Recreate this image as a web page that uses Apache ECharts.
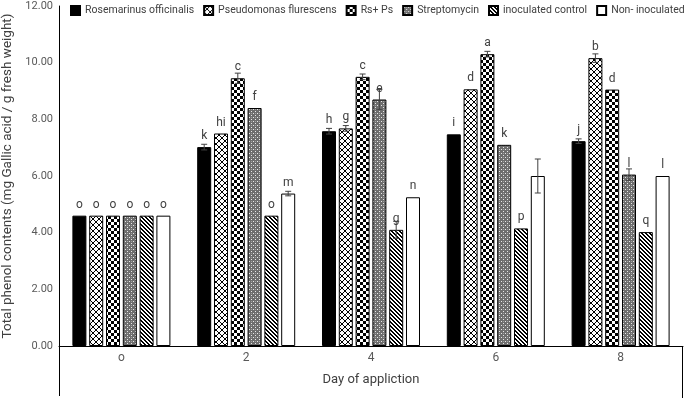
<!DOCTYPE html>
<html>
<head>
<meta charset="utf-8">
<script src="https://cdn.jsdelivr.net/npm/echarts@6/dist/echarts.min.js"></script>
<style>
  html, body { margin: 0; padding: 0; background: #fff; }
  #chart { width: 685px; height: 398px; }
</style>
</head>
<body>
<div id="chart"></div>
<script>
// data
const days = ['o', '2', '4', '6', '8'];
const yTicks = [0, 2, 4, 6, 8, 10, 12];
const names = ['Rosemarinus officinalis', 'Pseudomonas flurescens', 'Rs+ Ps', 'Streptomycin', 'inoculated control', 'Non- inoculated'];

const rosemarinus = [4.6, 7.02, 7.58, 7.47, 7.23];
const pseudomonas = [4.6, 7.5, 7.68, 9.06, 10.16];
const rsPs = [4.6, 9.45, 9.5, 10.3, 9.05];
const streptomycin = [4.6, 8.4, 8.7, 7.1, 6.05];
const inocControl = [4.6, 4.6, 4.1, 4.15, 4.02];
const nonInoc = [4.6, 5.38, 5.25, 6.0, 6.0];

const errRosemarinus = [0, 0.1, 0.1, 0, 0.08];
const errPseudomonas = [0, 0, 0.1, 0, 0.15];
const errRsPs = [0, 0.18, 0.1, 0.1, 0];
const errStreptomycin = [0, 0, 0.35, 0, 0.2];
const errInocControl = [0, 0, 0.3, 0, 0];
const errNonInoc = [0, 0.08, 0, 0.6, 0];

const lettersRosemarinus = ['o', 'k', 'h', 'i', 'j'];
const lettersPseudomonas = ['o', 'hi', 'g', 'd', 'b'];
const lettersRsPs = ['o', 'c', 'c', 'a', 'd'];
const lettersStreptomycin = ['o', 'f', 'e', 'k', 'l'];
const lettersInocControl = ['o', 'o', 'g', 'p', 'q'];
const lettersNonInoc = ['o', 'm', 'n', '', 'l'];

const values = [rosemarinus, pseudomonas, rsPs, streptomycin, inocControl, nonInoc];
const errors = [errRosemarinus, errPseudomonas, errRsPs, errStreptomycin, errInocControl, errNonInoc];
const letters = [lettersRosemarinus, lettersPseudomonas, lettersRsPs, lettersStreptomycin, lettersInocControl, lettersNonInoc];

// hatch fills like the excel patterns
function tile(size, draw) {
  const c = document.createElement('canvas');
  c.width = c.height = size;
  const g = c.getContext('2d');
  g.fillStyle = '#fff';
  g.fillRect(0, 0, size, size);
  draw(g, size);
  return { image: c, repeat: 'repeat' };
}
const fills = [
  '#000',
  tile(6, (g, s) => {
    g.fillStyle = '#000';
    for (let i = 0; i < s; i++) { g.fillRect(i, i, 1, 1); g.fillRect(s - 1 - i, i, 1, 1); }
  }),
  tile(6, (g) => {
    g.fillStyle = '#000';
    g.fillRect(0, 0, 3, 3);
    g.fillRect(3, 3, 3, 3);
  }),
  tile(4, (g) => {
    g.fillStyle = '#6e6e6e';
    g.fillRect(0, 0, 4, 4);
    g.fillStyle = '#e8e8e8';
    g.fillRect(1, 1, 1, 1);
    g.fillRect(3, 3, 1, 1);
    g.fillStyle = '#a0a0a0';
    g.fillRect(3, 1, 1, 1);
  }),
  tile(4, (g, s) => {
    g.fillStyle = '#000';
    for (let i = 0; i < s; i++) { g.fillRect(i, i, 1, 1); g.fillRect((i + 1) % s, i, 1, 1); }
  }),
  '#fff'
];

const BAR_W = 14;
const PITCH = BAR_W * 1.2;
const font = 'Roboto, "Noto Sans", sans-serif';

const series = [];
names.forEach((name, k) => {
  series.push({
    name: name,
    type: 'bar',
    barWidth: BAR_W,
    barGap: '20%',
    data: values[k],
    itemStyle: { color: fills[k], borderColor: '#000', borderWidth: 1 },
    label: {
      show: true,
      position: 'top',
      distance: 5,
      color: '#404040',
      fontSize: 12,
      fontFamily: font,
      formatter: (p) => letters[k][p.dataIndex]
    },
    z: 2
  });
});
names.forEach((name, k) => {
  const off = (k - 2.5) * PITCH;
  series.push({
    type: 'custom',
    z: 5,
    silent: true,
    data: days.map((d, i) => [i, values[k][i], errors[k][i]]),
    renderItem: (params, api) => {
      const e = api.value(2);
      if (!e) return null;
      const x = api.coord([api.value(0), 0])[0] + off;
      const hi = api.coord([api.value(0), api.value(1) + e])[1];
      const lo = api.coord([api.value(0), api.value(1) - e])[1];
      const st = { stroke: '#404040', lineWidth: 1 };
      return {
        type: 'group',
        children: [
          { type: 'line', shape: { x1: x, y1: hi, x2: x, y2: lo }, style: st },
          { type: 'line', shape: { x1: x - 3, y1: hi, x2: x + 3, y2: hi }, style: st },
          { type: 'line', shape: { x1: x - 3, y1: lo, x2: x + 3, y2: lo }, style: st }
        ]
      };
    }
  });
});

const chart = echarts.init(document.getElementById('chart'));
chart.setOption({
  animation: false,
  backgroundColor: '#fff',
  legend: {
    data: names,
    top: 5,
    left: 70,
    width: 615,
    padding: 0,
    icon: 'rect',
    itemWidth: 9,
    itemHeight: 9,
    itemGap: 9,
    textStyle: { fontSize: 10.5, color: '#404040', fontFamily: font }
  },
  grid: { left: 59, right: 2, top: 6, bottom: 52, outerBoundsMode: 'none' },
  xAxis: {
    type: 'category',
    data: days,
    name: 'Day of appliction',
    nameLocation: 'middle',
    nameGap: 27,
    nameTextStyle: { fontSize: 13, color: '#404040', fontFamily: font },
    axisLine: { lineStyle: { color: '#000', width: 1 } },
    axisTick: { show: false },
    axisLabel: { fontSize: 12, color: '#595959', fontFamily: font, margin: 6 }
  },
  yAxis: {
    type: 'value',
    min: yTicks[0],
    max: yTicks[yTicks.length - 1],
    interval: 2,
    name: 'Total phenol contents (mg Gallic acid / g fresh weight)',
    nameLocation: 'middle',
    nameGap: 44,
    nameTextStyle: { fontSize: 13.5, color: '#404040', fontFamily: font },
    axisLine: { show: true, lineStyle: { color: '#000', width: 1 } },
    axisTick: { show: false },
    splitLine: { show: false },
    axisLabel: { fontSize: 11, color: '#595959', fontFamily: font, margin: 6, formatter: (v) => v.toFixed(2) }
  },
  graphic: [
    { type: 'line', shape: { x1: 59.5, y1: 346, x2: 59.5, y2: 396 }, style: { stroke: '#000', lineWidth: 1 } },
    { type: 'line', shape: { x1: 682.5, y1: 346, x2: 682.5, y2: 398 }, style: { stroke: '#000', lineWidth: 1 } }
  ],
  series: series
});
</script>
</body>
</html>
